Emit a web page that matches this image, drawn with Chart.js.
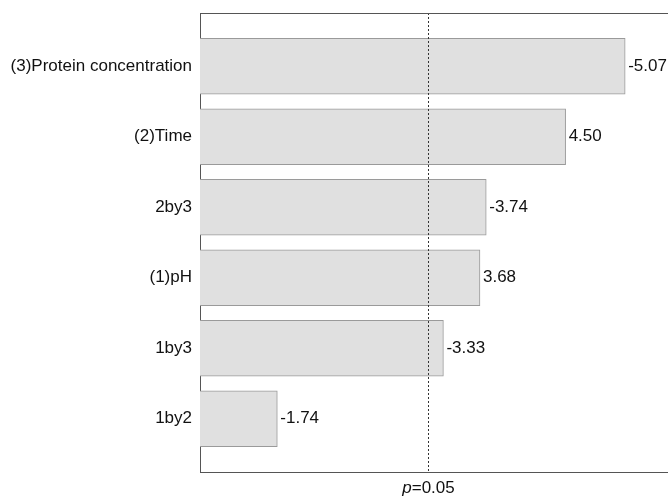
<!DOCTYPE html>
<html lang="en">
<head>
    <meta charset="UTF-8">
    <title>Pareto chart of effects</title>
    <script src="https://cdn.jsdelivr.net/npm/chart.js"></script>
    <style>
        body {
            margin: 0;
            background-color: white;
        }
        #wrap {
            width: 668px;
            height: 496px;
        }
    </style>
</head>
<body>
    <div id="wrap">
        <canvas id="myChart" width="668" height="496"></canvas>
    </div>

    <script>
        // factor names, top to bottom
        const factors = ['(3)Protein concentration', '(2)Time', '2by3', '(1)pH', '1by3', '1by2'];
        // standardized effects (signed, as printed)
        const effects = [-5.07, 4.50, -3.74, 3.68, -3.33, -1.74];
        // reference line for p = 0.05
        const pLimit = 3.18;
        const pLabel = '0.05';

        const fontName = 'Liberation Sans, Arial, sans-serif';
        const fontSize = 17;

        // bars use the absolute effect, the label keeps the sign
        const barData = effects.map(function (v, i) {
            return { x: Math.abs(v), y: i };
        });

        // draws the value next to each bar, the dotted line and its label
        const extrasPlugin = {
            id: 'extras',
            afterDatasetsDraw: function (chart) {
                const ctx = chart.ctx;
                const xs = chart.scales.x;
                const area = chart.chartArea;
                const meta = chart.getDatasetMeta(0);

                ctx.save();
                ctx.font = fontSize + 'px ' + fontName;
                ctx.fillStyle = '#111';
                ctx.textBaseline = 'middle';
                ctx.textAlign = 'left';
                meta.data.forEach(function (bar, i) {
                    ctx.fillText(effects[i].toFixed(2), bar.x + 3, bar.y);
                });

                // dotted line
                const lx = Math.round(xs.getPixelForValue(pLimit)) + 0.5;
                ctx.strokeStyle = '#333';
                ctx.lineWidth = 1;
                ctx.setLineDash([2, 2]);
                ctx.beginPath();
                ctx.moveTo(lx, area.top);
                ctx.lineTo(lx, area.bottom);
                ctx.stroke();
                ctx.setLineDash([]);

                // top border of the frame
                ctx.strokeStyle = '#555';
                ctx.beginPath();
                ctx.moveTo(area.left, area.top + 0.5);
                ctx.lineTo(area.right, area.top + 0.5);
                ctx.stroke();

                // p=0.05 label, p in italics
                const pPart = 'p';
                const rest = '=' + pLabel;
                ctx.font = 'italic ' + fontSize + 'px ' + fontName;
                const w1 = ctx.measureText(pPart).width;
                ctx.font = fontSize + 'px ' + fontName;
                const w2 = ctx.measureText(rest).width;
                const startX = lx - (w1 + w2) / 2;
                const ty = area.bottom + 16;
                ctx.font = 'italic ' + fontSize + 'px ' + fontName;
                ctx.fillText(pPart, startX, ty);
                ctx.font = fontSize + 'px ' + fontName;
                ctx.fillText(rest, startX + w1, ty);
                ctx.restore();
            }
        };

        const config = {
            type: 'bar',
            data: {
                datasets: [{
                    data: barData,
                    backgroundColor: '#e0e0e0',
                    borderColor: '#9a9a9a',
                    borderWidth: 1,
                    borderSkipped: false,
                    barThickness: 56
                }]
            },
            options: {
                indexAxis: 'y',
                responsive: false,
                animation: false,
                layout: {
                    padding: { top: 13, bottom: 24, left: 0, right: 0 }
                },
                plugins: {
                    legend: { display: false },
                    tooltip: { enabled: false }
                },
                scales: {
                    x: {
                        type: 'linear',
                        min: 1,
                        max: 5.48,
                        grid: { display: false, drawTicks: false },
                        border: { display: true, color: '#555', width: 1 },
                        ticks: { display: false },
                        afterFit: function (scale) {
                            scale.height = 0;
                            scale.paddingLeft = 0;
                            scale.paddingRight = 0;
                        }
                    },
                    y: {
                        type: 'linear',
                        reverse: true,
                        offset: false,
                        min: -0.755,
                        max: 5.755,
                        grid: { display: false, drawTicks: false, offset: false },
                        border: { display: true, color: '#555', width: 1 },
                        afterBuildTicks: function (scale) {
                            scale.ticks = factors.map(function (f, i) { return { value: i }; });
                        },
                        ticks: {
                            padding: 8,
                            color: '#111',
                            font: { family: fontName, size: fontSize },
                            callback: function (value) { return factors[value]; }
                        },
                        afterFit: function (scale) {
                            scale.width = 200;
                            scale.paddingTop = 0;
                            scale.paddingBottom = 0;
                        }
                    }
                }
            },
            plugins: [extrasPlugin]
        };

        const ctx = document.getElementById('myChart').getContext('2d');
        window.myChart = new Chart(ctx, config);
    </script>
</body>
</html>
